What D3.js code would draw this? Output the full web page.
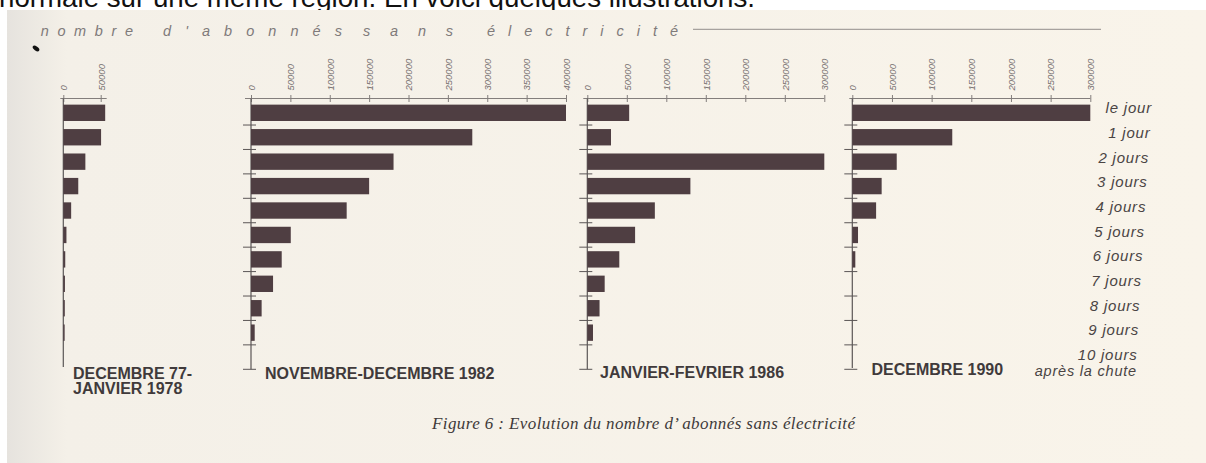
<!DOCTYPE html>
<html>
<head>
<meta charset="utf-8">
<script src="https://cdn.jsdelivr.net/npm/d3@7"></script>
<style>
html, body { margin: 0; padding: 0; background: #fff; }
svg { display: block; }
</style>
</head>
<body>
<div id="chart"></div>
<script>
// categories (rows) and values
var days = ["le jour", "1 jour", "2 jours", "3 jours", "4 jours", "5 jours",
            "6 jours", "7 jours", "8 jours", "9 jours", "10 jours"];
var hiver1978 = [56000, 50500, 29500, 20000, 10500, 4200, 2600, 2200, 2000, 1800, 0];
var hiver1982 = [400000, 281000, 181000, 150000, 121500, 50500, 39000, 28000, 13500, 4700, 0];
var hiver1986 = [53000, 30000, 300000, 130500, 85500, 60500, 40500, 22000, 15500, 7200, 0];
var hiver1990 = [300000, 126000, 56000, 37000, 30000, 7200, 3800, 0, 0, 0, 0];
var series = [hiver1978, hiver1982, hiver1986, hiver1990];
var periods = [["DECEMBRE 77-", "JANVIER 1978"], ["NOVEMBRE-DECEMBRE 1982"],
               ["JANVIER-FEVRIER 1986"], ["DECEMBRE 1990"]];
var tickMax = [50000, 400000, 300000, 300000];
var tickStep = 50000;
var titleWords = ["nombre", "d'abonnés", "sans", "électricité"];
var footnote = "après la chute";
var caption = "Figure 6 :  Evolution du nombre d\u2019 abonnés sans électricité";
var pageText = "normale sur une même région. En voici quelques illustrations.";

var W = 1206, H = 463;
var axisY = 98.5;

// where each little panel sits on the page
var layout = [
  {left: 63.3, width: 37.4, lineL: -3, lineR: 6, yTicks: false, axisEnd: 367, labelX: 73, labelY: 379},
  {left: 251, width: 315, lineL: -6, lineR: 0, yTicks: true, axisEnd: 369.3, labelX: 265, labelY: 379},
  {left: 587.3, width: 237, lineL: -4, lineR: 0, yTicks: true, axisEnd: 369.3, labelX: 600, labelY: 378},
  {left: 852.3, width: 238, lineL: -3, lineR: 0, yTicks: true, axisEnd: 368, labelX: 871.5, labelY: 375}
];
var titleSpans = [[40.7, 133], [163, 342], [363, 453], [487, 678]];

var svg = d3.select("#chart").append("svg")
  .attr("width", W).attr("height", H);

var defs = svg.append("defs");
var grad = defs.append("linearGradient").attr("id", "shade")
  .attr("x1", 0).attr("x2", 1).attr("y1", 0).attr("y2", 0);
grad.append("stop").attr("offset", 0).attr("stop-color", "#e6e3de");
grad.append("stop").attr("offset", 0.05).attr("stop-color", "#f4f0e8");
grad.append("stop").attr("offset", 1).attr("stop-color", "#f9f4ea");

// text of the page above the scanned figure (mostly hidden by it)
svg.append("text")
  .attr("x", -1).attr("y", 6.5)
  .attr("textLength", 756).attr("lengthAdjust", "spacingAndGlyphs")
  .style("font-family", "'Liberation Sans', Arial, sans-serif")
  .style("font-size", "27px")
  .style("fill", "#111")
  .text(pageText);

// the scanned page
svg.append("rect")
  .attr("x", 7).attr("y", 10).attr("width", W - 7).attr("height", H - 10)
  .attr("fill", "url(#shade)");

// stray ink mark
svg.append("ellipse")
  .attr("cx", 36).attr("cy", 48.5).attr("rx", 3.8).attr("ry", 2)
  .attr("transform", "rotate(35,36,48.5)")
  .attr("fill", "#111");

// title
svg.append("g").selectAll("text")
  .data(titleWords)
  .join("text")
  .attr("x", function(d, i) { return titleSpans[i][0]; })
  .attr("y", 35.5)
  .attr("textLength", function(d, i) { return titleSpans[i][1] - titleSpans[i][0]; })
  .attr("lengthAdjust", "spacing")
  .style("font-family", "'Liberation Sans', Arial, sans-serif")
  .style("font-style", "italic")
  .style("font-size", "14.5px")
  .style("fill", "#7f7a7a")
  .text(function(d) { return d; });

svg.append("line")
  .attr("x1", 693).attr("x2", 1101).attr("y1", 29.3).attr("y2", 29.3)
  .attr("stroke", "#938e8b").attr("stroke-width", 1);

var y = d3.scaleBand()
  .domain(days)
  .range([100.6, 369.3])
  .paddingInner(0.33)
  .paddingOuter(0.165);

function boundary(d) {
  return y(d) + y.bandwidth() + (y.step() - y.bandwidth()) / 2;
}

layout.forEach(function(p, k) {
  var x = d3.scaleLinear().domain([0, tickMax[k]]).range([p.left, p.left + p.width]);
  var g = svg.append("g");

  var ax = g.append("g")
    .attr("transform", "translate(0," + axisY + ")")
    .call(d3.axisTop(x)
      .tickValues(d3.range(0, tickMax[k] + 1, tickStep))
      .tickSizeInner(3.5).tickSizeOuter(0)
      .tickFormat(d3.format("d")));
  ax.select(".domain").remove();
  ax.selectAll(".tick line")
    .attr("y1", 3.5)
    .attr("stroke", "#837e7c");
  ax.selectAll(".tick text")
    .attr("transform", "rotate(-90)")
    .attr("x", 8).attr("y", 0).attr("dy", "0.35em")
    .style("text-anchor", "start")
    .style("font-family", "'Liberation Sans', Arial, sans-serif")
    .style("font-style", "italic")
    .style("font-size", "9.5px")
    .style("fill", "#767070");

  g.append("line")
    .attr("x1", p.left + p.lineL).attr("x2", x(tickMax[k]) + p.lineR)
    .attr("y1", axisY).attr("y2", axisY)
    .attr("stroke", "#837e7c").attr("stroke-width", 1);

  g.append("line")
    .attr("x1", p.left).attr("x2", p.left)
    .attr("y1", axisY).attr("y2", p.axisEnd)
    .attr("stroke", "#5b5656").attr("stroke-width", 1.2);

  if (p.yTicks) {
    g.append("g").selectAll("line")
      .data(days)
      .join("line")
      .attr("x1", p.left - 8).attr("x2", p.left + 5)
      .attr("y1", boundary).attr("y2", boundary)
      .attr("stroke", "#5b5656").attr("stroke-width", 1);
  }

  g.append("g").selectAll("rect")
    .data(series[k])
    .join("rect")
    .attr("x", x(0))
    .attr("y", function(d, i) { return y(days[i]); })
    .attr("width", function(d) { return x(d) - x(0); })
    .attr("height", y.bandwidth())
    .attr("fill", "#4f3e42");

  g.append("text")
    .attr("x", p.labelX).attr("y", p.labelY)
    .style("font-family", "'Liberation Sans', Arial, sans-serif")
    .style("font-weight", "bold")
    .style("font-size", "16px")
    .style("fill", "#403a3b")
    .selectAll("tspan")
    .data(periods[k])
    .join("tspan")
    .attr("x", p.labelX)
    .attr("dy", function(d, i) { return i ? 15 : 0; })
    .text(function(d) { return d; });
});

// row labels on the right (the scan is slightly rotated, so they drift)
svg.append("g").selectAll("text")
  .data(days)
  .join("text")
  .attr("x", function(d, i) { return 1152 - 1.45 * i; })
  .attr("y", function(d, i) { return y(d) + y.bandwidth() / 2 + 0.5 + 0.25 * i; })
  .style("text-anchor", "end")
  .style("font-family", "'Liberation Sans', Arial, sans-serif")
  .style("font-style", "italic")
  .style("font-size", "15px")
  .style("letter-spacing", "0.8px")
  .style("fill", "#4a4444")
  .text(function(d) { return d; });

svg.append("text")
  .attr("x", 1137).attr("y", 376)
  .style("text-anchor", "end")
  .style("font-family", "'Liberation Sans', Arial, sans-serif")
  .style("font-style", "italic")
  .style("font-size", "14.5px")
  .style("letter-spacing", "0.8px")
  .style("fill", "#4a4444")
  .text(footnote);

svg.append("text")
  .attr("x", 432).attr("y", 429)
  .attr("textLength", 423).attr("lengthAdjust", "spacing")
  .style("font-family", "'Liberation Serif', 'Times New Roman', serif")
  .style("font-style", "italic")
  .style("font-size", "17px")
  .style("fill", "#3e3a3a")
  .text(caption);
</script>
</body>
</html>
